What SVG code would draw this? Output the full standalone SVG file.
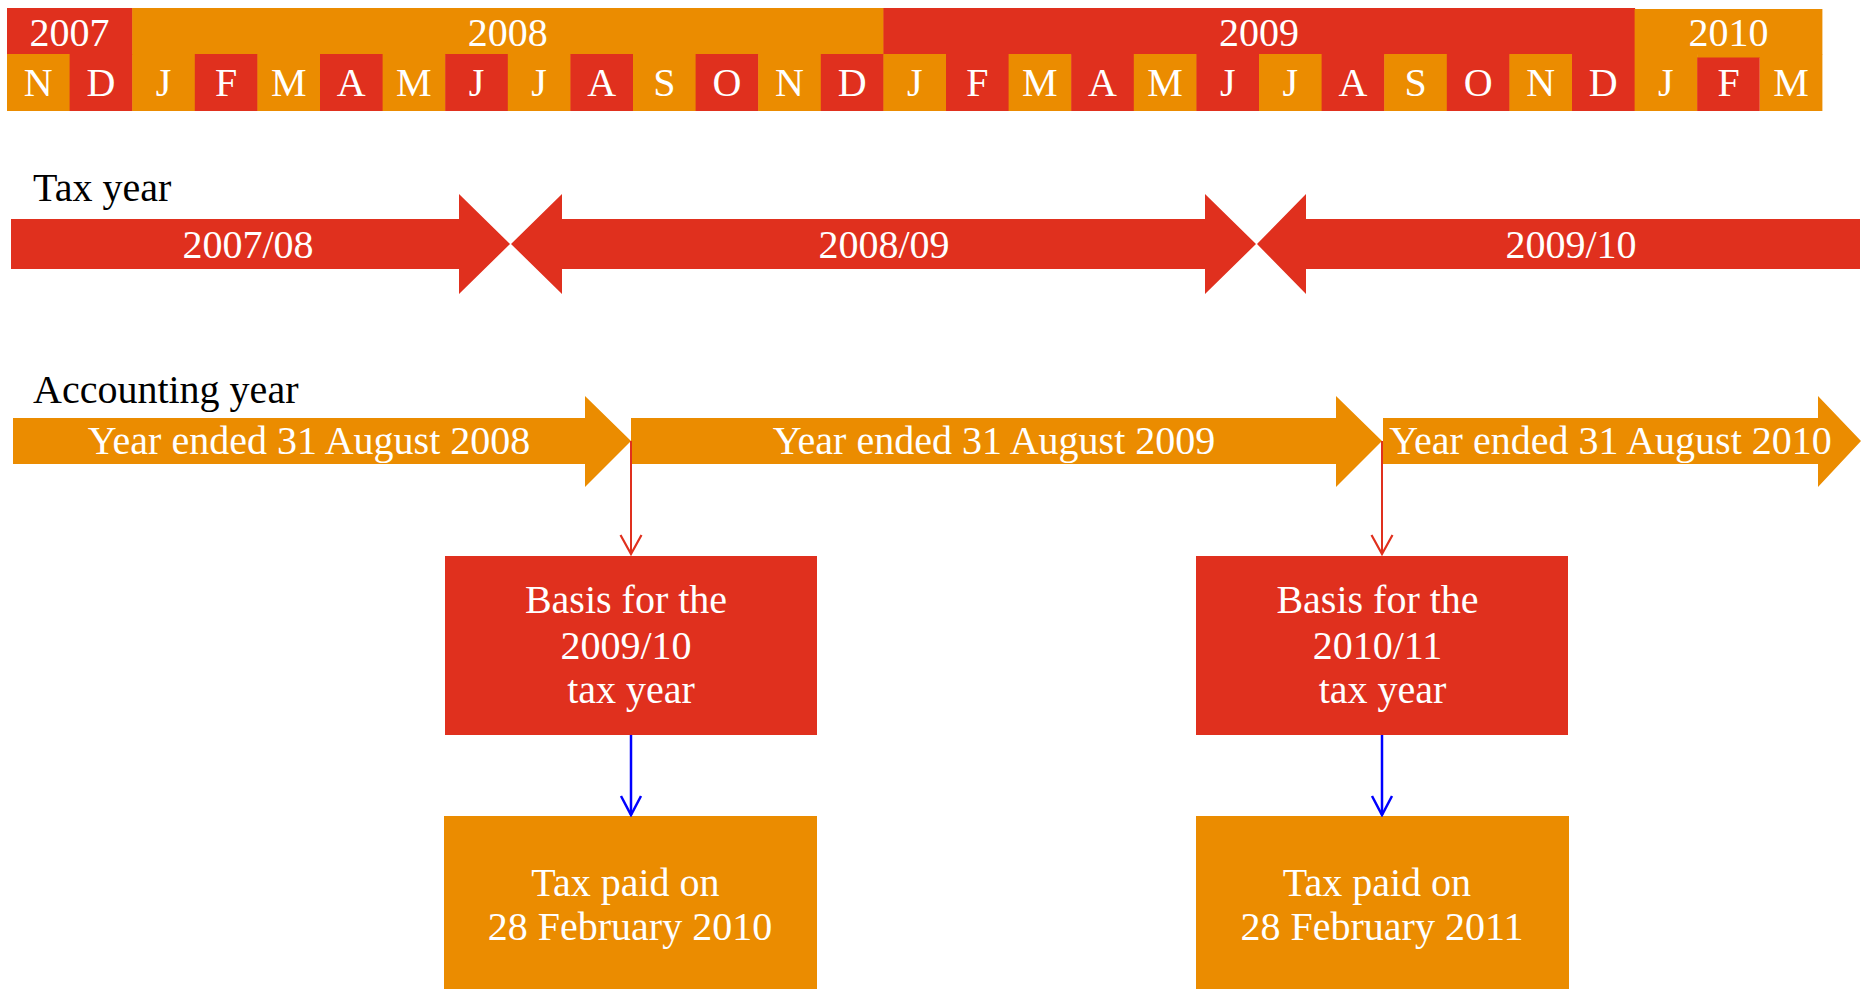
<svg xmlns="http://www.w3.org/2000/svg" width="1861" height="989" viewBox="0 0 1861 989">
<style>
.red{fill:#E0301E}
.org{fill:#EB8C00}
.wt{fill:#FFFFFF;font-family:"Liberation Serif",serif;font-size:40px;text-anchor:middle}
.lbl{fill:#000000;font-family:"Liberation Serif",serif;font-size:40px}
.conR{stroke:#E0301E;stroke-width:2;fill:none}
.conB{stroke:#0000FF;stroke-width:2.5;fill:none}
</style>
<defs>
<marker id="arrR" viewBox="-22 -12 24 24" refX="0" refY="0" markerWidth="24" markerHeight="24" markerUnits="userSpaceOnUse" orient="auto">
<path d="M-19,-10.5 L0,0 L-19,10.5" fill="none" stroke="#E0301E" stroke-width="2.2"/>
</marker>
<marker id="arrB" viewBox="-22 -12 24 24" refX="0" refY="0" markerWidth="24" markerHeight="24" markerUnits="userSpaceOnUse" orient="auto">
<path d="M-19,-10 L0,0 L-19,10" fill="none" stroke="#0000FF" stroke-width="2.5"/>
</marker>
</defs>
<rect width="1861" height="989" fill="#FFFFFF"/>

<g id="timeline-header">
<rect class="red" x="7" y="8" width="125.7" height="47"/>
<rect class="org" x="132.2" y="8" width="751.7" height="46.5"/>
<rect class="red" x="883.4" y="8" width="751.7" height="46.5"/>
<rect class="org" x="1634.6" y="9" width="187.8" height="45.5"/>
<text class="wt" x="69.5" y="46">2007</text>
<text class="wt" x="507.8" y="46">2008</text>
<text class="wt" x="1259" y="46">2009</text>
<text class="wt" x="1728.5" y="46">2010</text>
<g id="months">
<rect class="org" x="7" y="54" width="63.1" height="57"/>
<rect class="red" x="69.6" y="54" width="63.1" height="57"/>
<rect class="org" x="132.2" y="54" width="63.1" height="57"/>
<rect class="red" x="194.8" y="54" width="63.1" height="57"/>
<rect class="org" x="257.4" y="54" width="63.1" height="57"/>
<rect class="red" x="320" y="54" width="63.1" height="57"/>
<rect class="org" x="382.6" y="54" width="63.1" height="57"/>
<rect class="red" x="445.2" y="54" width="63.1" height="57"/>
<rect class="org" x="507.8" y="54" width="63.1" height="57"/>
<rect class="red" x="570.4" y="54" width="63.1" height="57"/>
<rect class="org" x="633" y="54" width="63.1" height="57"/>
<rect class="red" x="695.6" y="54" width="63.1" height="57"/>
<rect class="org" x="758.2" y="54" width="63.1" height="57"/>
<rect class="red" x="820.8" y="54" width="63.1" height="57"/>
<rect class="org" x="883.4" y="54" width="63.1" height="57"/>
<rect class="red" x="946" y="54" width="63.1" height="57"/>
<rect class="org" x="1008.6" y="54" width="63.1" height="57"/>
<rect class="red" x="1071.2" y="54" width="63.1" height="57"/>
<rect class="org" x="1133.8" y="54" width="63.1" height="57"/>
<rect class="red" x="1196.4" y="54" width="63.1" height="57"/>
<rect class="org" x="1259" y="54" width="63.1" height="57"/>
<rect class="red" x="1321.6" y="54" width="63.1" height="57"/>
<rect class="org" x="1384.2" y="54" width="63.1" height="57"/>
<rect class="red" x="1446.8" y="54" width="63.1" height="57"/>
<rect class="org" x="1509.4" y="54" width="63.1" height="57"/>
<rect class="red" x="1572" y="54" width="63.1" height="57"/>
<rect class="org" x="1634.6" y="54" width="63.1" height="57"/>
<rect class="org" x="1697.2" y="54" width="63.1" height="4"/>
<rect class="red" x="1697.2" y="57.5" width="62.6" height="53.5"/>
<rect class="org" x="1759.8" y="54" width="62.6" height="57"/>
<text class="wt" x="38.3" y="96">N</text>
<text class="wt" x="100.9" y="96">D</text>
<text class="wt" x="163.5" y="96">J</text>
<text class="wt" x="226.1" y="96">F</text>
<text class="wt" x="288.7" y="96">M</text>
<text class="wt" x="351.3" y="96">A</text>
<text class="wt" x="413.9" y="96">M</text>
<text class="wt" x="476.5" y="96">J</text>
<text class="wt" x="539.1" y="96">J</text>
<text class="wt" x="601.7" y="96">A</text>
<text class="wt" x="664.3" y="96">S</text>
<text class="wt" x="726.9" y="96">O</text>
<text class="wt" x="789.5" y="96">N</text>
<text class="wt" x="852.1" y="96">D</text>
<text class="wt" x="914.7" y="96">J</text>
<text class="wt" x="977.3" y="96">F</text>
<text class="wt" x="1039.9" y="96">M</text>
<text class="wt" x="1102.5" y="96">A</text>
<text class="wt" x="1165.1" y="96">M</text>
<text class="wt" x="1227.7" y="96">J</text>
<text class="wt" x="1290.3" y="96">J</text>
<text class="wt" x="1352.9" y="96">A</text>
<text class="wt" x="1415.5" y="96">S</text>
<text class="wt" x="1478.1" y="96">O</text>
<text class="wt" x="1540.7" y="96">N</text>
<text class="wt" x="1603.3" y="96">D</text>
<text class="wt" x="1665.9" y="96">J</text>
<text class="wt" x="1728.5" y="96">F</text>
<text class="wt" x="1791.1" y="96">M</text>
</g>
</g>

<g id="tax-year-label"><text class="lbl" x="33" y="201">Tax year</text></g>
<g id="tax-2007-08">
<polygon class="red" points="11,219 459,219 459,194 510,244 459,294 459,269 11,269"/>
<text class="wt" x="248" y="257.5">2007/08</text>
</g>
<g id="tax-2008-09">
<polygon class="red" points="511,244 562,194 562,219 1205,219 1205,194 1256,244 1205,294 1205,269 562,269 562,294"/>
<text class="wt" x="884" y="257.5">2008/09</text>
</g>
<g id="tax-2009-10">
<polygon class="red" points="1257,244 1306,194 1306,219 1860,219 1860,269 1306,269 1306,294"/>
<text class="wt" x="1571" y="257.5">2009/10</text>
</g>

<g id="accounting-year-label"><text class="lbl" x="33" y="402.5">Accounting year</text></g>
<g id="acc-2008">
<polygon class="org" points="13,418 585,418 585,396 631,441 585,487 585,464 13,464"/>
<text class="wt" x="309" y="454">Year ended 31 August 2008</text>
</g>
<g id="acc-2009">
<polygon class="org" points="631,418 1336,418 1336,396 1382,441 1336,487 1336,464 631,464"/>
<text class="wt" x="994" y="454">Year ended 31 August 2009</text>
</g>
<g id="acc-2010">
<polygon class="org" points="1383,418 1818,418 1818,396 1861,441 1818,487 1818,464 1383,464"/>
<text class="wt" x="1610.5" y="454">Year ended 31 August 2010</text>
</g>

<g id="basis-2009-10">
<rect class="red" x="445" y="556" width="372" height="179"/>
<text class="wt" x="626" y="613">Basis for the</text>
<text class="wt" x="626" y="659">2009/10</text>
<text class="wt" x="631" y="703">tax year</text>
</g>
<g id="paid-2010">
<rect class="org" x="444" y="816" width="373" height="175"/>
<text class="wt" x="625.5" y="896">Tax paid on</text>
<text class="wt" x="630" y="940">28 February 2010</text>
</g>
<g id="basis-2010-11">
<rect class="red" x="1196" y="556" width="372" height="179"/>
<text class="wt" x="1377.5" y="613">Basis for the</text>
<text class="wt" x="1377.5" y="659">2010/11</text>
<text class="wt" x="1382.5" y="703">tax year</text>
</g>
<g id="paid-2011">
<rect class="org" x="1196" y="816" width="373" height="175"/>
<text class="wt" x="1377" y="896">Tax paid on</text>
<text class="wt" x="1382" y="940">28 February 2011</text>
</g>

<g id="connectors">
<line class="conR" x1="631" y1="441" x2="631" y2="554" marker-end="url(#arrR)"/>
<line class="conR" x1="1382" y1="441" x2="1382" y2="554" marker-end="url(#arrR)"/>
<line class="conB" x1="631" y1="735" x2="631" y2="815" marker-end="url(#arrB)"/>
<line class="conB" x1="1382" y1="735" x2="1382" y2="815" marker-end="url(#arrB)"/>
</g>
</svg>
